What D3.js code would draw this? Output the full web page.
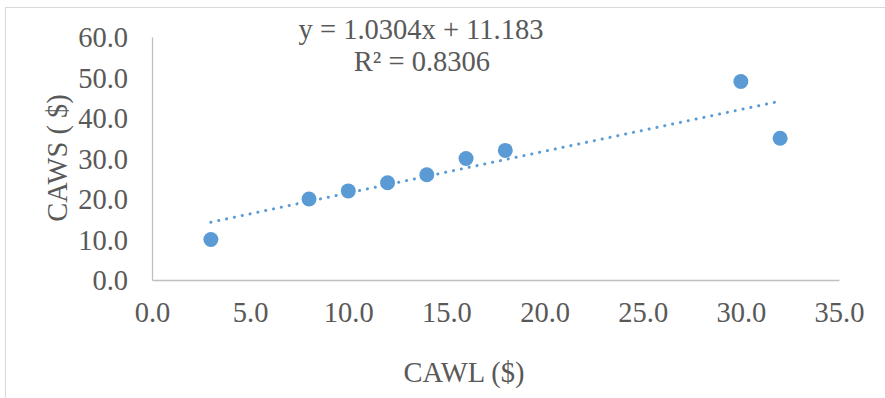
<!DOCTYPE html>
<html>
<head>
<meta charset="utf-8">
<script src="https://cdn.jsdelivr.net/npm/d3@7"></script>
<style>
  html, body { margin: 0; padding: 0; background: #fff; }
  svg { display: block; }
  text { font-family: "Liberation Serif", "Times New Roman", serif; fill: #595959; }
</style>
</head>
<body>
<svg id="chart" width="885" height="398"></svg>
<script>
// CAWL vs CAWS observations
const cawl = [3, 8, 10, 12, 14, 16, 18, 30, 32];
const caws = [10, 20, 22, 24, 26, 30, 32, 49, 35];
const xTicks = [0, 5, 10, 15, 20, 25, 30, 35];
const yTicks = [0, 10, 20, 30, 40, 50, 60];
const slope = 1.0304, intercept = 11.183, rSquared = 0.8306;

const svg = d3.select("#chart");
const W = 885, H = 398;
const plot = { left: 152, right: 839, top: 37, bottom: 280 };
const color = "#5B9BD5";
const fs = 28.5;

// chart frame
svg.append("rect")
  .attr("x", 5.5).attr("y", 7.5)
  .attr("width", W + 20).attr("height", H + 20)
  .attr("fill", "none").attr("stroke", "#D9D9D9").attr("stroke-width", 1);

const x = d3.scaleLinear().domain([0, 35]).range([plot.left, plot.right]);
const y = d3.scaleLinear().domain([0, 60]).range([plot.bottom, plot.top]);

const fmt = d3.format(".1f");

// x axis
const gx = svg.append("g").attr("transform", `translate(0,${plot.bottom})`)
  .call(d3.axisBottom(x).tickValues(xTicks).tickFormat(fmt).tickSize(0).tickPadding(22));
gx.select(".domain").attr("stroke", "#BFBFBF").attr("stroke-width", 1.3);
gx.selectAll("text").attr("font-size", fs).attr("fill", "#595959")
  .attr("font-family", "Liberation Serif, serif").attr("dy", "0.71em");

// y axis
const gy = svg.append("g").attr("transform", `translate(${plot.left},0)`)
  .call(d3.axisLeft(y).tickValues(yTicks).tickFormat(fmt).tickSize(0).tickPadding(24));
gy.select(".domain").attr("stroke", "#BFBFBF").attr("stroke-width", 1.3);
gy.selectAll("text").attr("font-size", fs).attr("fill", "#595959")
  .attr("font-family", "Liberation Serif, serif").attr("dy", "0.34em");

// axis titles
svg.append("text")
  .attr("x", 464).attr("y", 382)
  .attr("text-anchor", "middle").attr("font-size", fs)
  .text("CAWL ($)");

svg.append("text")
  .attr("transform", "translate(67,158) rotate(-90)")
  .attr("text-anchor", "middle").attr("font-size", fs)
  .text("CAWS ( $)");

// linear trendline over the data range
const xExt = d3.extent(cawl);
svg.append("line")
  .attr("x1", x(xExt[0])).attr("y1", y(slope * xExt[0] + intercept))
  .attr("x2", x(xExt[1])).attr("y2", y(slope * xExt[1] + intercept))
  .attr("stroke", color).attr("stroke-width", 3)
  .attr("stroke-linecap", "round").attr("stroke-dasharray", "0.1 7.9");

// points
svg.append("g").selectAll("circle")
  .data(cawl.map((v, i) => [v, caws[i]]))
  .join("circle")
  .attr("cx", d => x(d[0])).attr("cy", d => y(d[1]))
  .attr("r", 7.5).attr("fill", color);

// trendline equation
svg.append("text")
  .attr("x", 421).attr("y", 39)
  .attr("text-anchor", "middle").attr("font-size", fs)
  .text(`y = ${slope}x + ${intercept}`);
svg.append("text")
  .attr("x", 422).attr("y", 71)
  .attr("text-anchor", "middle").attr("font-size", fs)
  .text(`R² = ${rSquared}`);
</script>
</body>
</html>
